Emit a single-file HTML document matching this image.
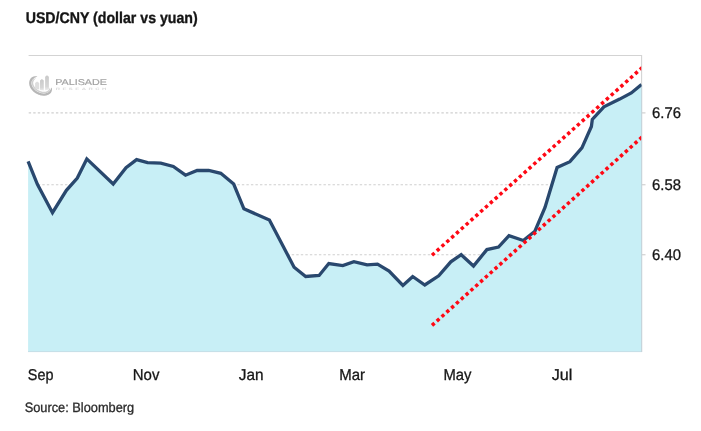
<!DOCTYPE html>
<html>
<head>
<meta charset="utf-8">
<title>USD/CNY (dollar vs yuan)</title>
<style>
html,body{margin:0;padding:0;background:#fff;}
body{width:701px;height:431px;overflow:hidden;font-family:"Liberation Sans",sans-serif;}
svg{display:block;}
text{font-family:"Liberation Sans",sans-serif;fill:#161616;text-rendering:geometricPrecision;}
.lbl text, text.lbl{stroke:#161616;stroke-width:0.3px;}
</style>
</head>
<body>
<svg width="701" height="431" viewBox="0 0 701 431">
  <defs>
    <clipPath id="plot"><rect x="28" y="56" width="613.2" height="296"/></clipPath>
    <clipPath id="plot2"><rect x="20" y="56" width="621.6" height="296"/></clipPath>
    <clipPath id="swclip"><path d="M26,70 L36.5,70 L41,84 L55,84.5 L55,100 L26,100 Z"/></clipPath>
    <filter id="soft" x="-20%" y="-20%" width="140%" height="140%"><feGaussianBlur stdDeviation="0.45"/></filter>
    <linearGradient id="barg" x1="0" y1="0" x2="0" y2="1">
      <stop offset="0" stop-color="#c9c9c9"/><stop offset="0.75" stop-color="#d6d6d6"/><stop offset="1" stop-color="#ececec"/>
    </linearGradient>
  </defs>
  <rect x="0" y="0" width="701" height="431" fill="#ffffff"/>

  <!-- title -->
  <text x="25.7" y="22.6" font-size="15.5" font-weight="700" textLength="172" lengthAdjust="spacingAndGlyphs" style="fill:#151515;stroke:#151515;stroke-width:0.35px">USD/CNY (dollar vs yuan)</text>

  <!-- frame -->
  <line x1="28.6" y1="55.5" x2="642" y2="55.5" stroke="#d3d3d3" stroke-width="1.1"/>
  <line x1="641.6" y1="55" x2="641.6" y2="352" stroke="#d3d3d3" stroke-width="1.1"/>

  <!-- gridlines -->
  <g stroke="#cfcfcf" stroke-width="1.1" stroke-dasharray="2.4 2.135">
    <line x1="28.7" y1="112.9" x2="641" y2="112.9"/>
    <line x1="28.7" y1="184.75" x2="641" y2="184.75"/>
    <line x1="28.7" y1="254.75" x2="641" y2="254.75"/>
  </g>
  <g stroke="#cfcfcf" stroke-width="1.15">
    <line x1="641" y1="112.9" x2="645.5" y2="112.9"/>
    <line x1="641" y1="184.75" x2="645.5" y2="184.75"/>
    <line x1="641" y1="254.75" x2="645.5" y2="254.75"/>
  </g>

  <!-- area -->
  <path fill="#c8eff6" d="M28.1,161.4 L37.4,184.4 L52.5,212.7 L66.4,190.3 L77.3,178.0 L86.8,158.9 L113.2,184.0 L126,167.8 L136.6,159.6 L147.5,162.7 L160.8,163.1 L173.3,166.5 L185.5,175.2 L197.1,170.5 L208.7,170.5 L220.8,173.3 L233.7,184.0 L243.9,208.8 L269.4,220.0 L294.1,267.2 L305.7,276.5 L319.1,275.5 L328.8,263.5 L342.8,265.6 L353.9,261.6 L367.1,264.9 L377.5,264.2 L389.1,271.1 L402.9,285.5 L412.7,276.5 L424.8,285.0 L438.7,275.8 L450.8,261.8 L461.2,254.7 L473.5,266.0 L486.9,249.6 L498.5,247.0 L509,235.6 L523.3,240.5 L534.9,231.2 L545,207.4 L557.1,167.5 L569.9,161.7 L581.9,147.9 L591.4,126.5 L592.3,119.5 L603.9,106.8 L619.7,99.1 L631.3,92.9 L641.5,84.4 L641.5,351.5 L28.1,351.5 Z"/>
  <line x1="28" y1="351.6" x2="642" y2="351.6" stroke="#c3dde6" stroke-width="1"/>
  <line x1="641.6" y1="85" x2="641.6" y2="352" stroke="#c5d4dc" stroke-width="1.1"/>

  <!-- line -->
  <path fill="none" stroke="#29486e" stroke-width="3.3" stroke-linejoin="miter" stroke-linecap="butt" clip-path="url(#plot2)" d="M28.1,161.4 L37.4,184.4 L52.5,212.7 L66.4,190.3 L77.3,178.0 L86.8,158.9 L113.2,184.0 L126,167.8 L136.6,159.6 L147.5,162.7 L160.8,163.1 L173.3,166.5 L185.5,175.2 L197.1,170.5 L208.7,170.5 L220.8,173.3 L233.7,184.0 L243.9,208.8 L269.4,220.0 L294.1,267.2 L305.7,276.5 L319.1,275.5 L328.8,263.5 L342.8,265.6 L353.9,261.6 L367.1,264.9 L377.5,264.2 L389.1,271.1 L402.9,285.5 L412.7,276.5 L424.8,285.0 L438.7,275.8 L450.8,261.8 L461.2,254.7 L473.5,266.0 L486.9,249.6 L498.5,247.0 L509,235.6 L523.3,240.5 L534.9,231.2 L545,207.4 L557.1,167.5 L569.9,161.7 L581.9,147.9 L591.4,126.5 L592.3,119.5 L603.9,106.8 L619.7,99.1 L631.3,92.9 L641.5,84.4"/>

  <!-- red dotted channel -->
  <g stroke="#ff0814" stroke-width="3.5" stroke-dasharray="3.4 3.082" fill="none" clip-path="url(#plot)">
    <line x1="432.0" y1="255.2" x2="645" y2="65.1"/>
    <line x1="432.0" y1="325.4" x2="645" y2="134.45"/>
  </g>

  <!-- logo -->
  <g id="logo">
    <g filter="url(#soft)">
      <path d="M51.49,87.47 L51.78,87.95 L51.91,88.46 L51.97,88.98 L51.98,89.49 L51.94,90.01 L51.86,90.53 L51.73,91.04 L51.56,91.54 L51.34,92.03 L51.08,92.50 L50.78,92.95 L50.40,93.35 L49.99,93.71 L49.55,94.05 L49.08,94.35 L48.60,94.63 L48.08,94.87 L47.55,95.09 L47.00,95.27 L46.43,95.42 L45.85,95.55 L45.26,95.64 L44.65,95.69 L44.04,95.72 L43.41,95.72 L42.79,95.69 L42.15,95.62 L41.52,95.53 L40.88,95.41 L40.24,95.26 L39.61,95.08 L38.98,94.87 L38.36,94.63 L37.74,94.37 L37.13,94.09 L36.54,93.77 L35.96,93.44 L35.39,93.08 L34.83,92.70 L34.30,92.30 L33.78,91.88 L33.29,91.44 L32.81,90.98 L32.36,90.51 L31.94,90.02 L31.53,89.51 L31.16,89.00 L30.82,88.47 L30.50,87.93 L30.21,87.39 L29.96,86.83 L29.74,86.27 L29.55,85.71 L29.40,85.14 L29.28,84.57 L29.20,84.01 L29.15,83.44 L29.14,82.88 L29.17,82.32 L29.24,81.77 L29.34,81.23 L29.49,80.71 L29.67,80.19 L29.89,79.70 L30.15,79.22 L30.44,78.76 L30.77,78.33 L31.13,77.92 L31.52,77.54 L31.98,77.24 L32.46,76.97 L32.96,76.73 L33.48,76.54 L34.01,76.38 L34.56,76.26 L35.11,76.18 L35.68,76.14 L36.25,76.15 L36.82,76.22 L37.40,76.44 L37.40,76.44 L36.88,76.76 L36.38,76.97 L35.90,77.17 L35.45,77.39 L35.03,77.61 L34.63,77.86 L34.26,78.11 L33.92,78.38 L33.61,78.65 L33.32,78.94 L33.07,79.24 L32.80,79.51 L32.55,79.78 L32.33,80.08 L32.13,80.39 L31.96,80.71 L31.81,81.05 L31.68,81.40 L31.58,81.76 L31.51,82.13 L31.46,82.52 L31.44,82.92 L31.45,83.33 L31.48,83.75 L31.54,84.17 L31.63,84.61 L31.75,85.04 L31.90,85.48 L32.07,85.93 L32.28,86.37 L32.51,86.82 L32.77,87.26 L33.06,87.69 L33.37,88.12 L33.70,88.54 L34.06,88.96 L34.45,89.36 L34.85,89.75 L35.27,90.13 L35.72,90.49 L36.18,90.83 L36.65,91.16 L37.14,91.47 L37.65,91.76 L38.16,92.03 L38.68,92.27 L39.21,92.50 L39.75,92.70 L40.28,92.88 L40.82,93.03 L41.36,93.16 L41.90,93.26 L42.43,93.34 L42.96,93.39 L43.48,93.42 L43.99,93.42 L44.49,93.40 L44.98,93.35 L45.45,93.28 L45.90,93.19 L46.34,93.07 L46.76,92.93 L47.16,92.77 L47.53,92.59 L47.89,92.39 L48.22,92.17 L48.53,91.93 L48.82,91.68 L49.08,91.41 L49.37,91.17 L49.64,90.90 L49.90,90.61 L50.14,90.30 L50.36,89.97 L50.57,89.61 L50.75,89.24 L50.93,88.83 L51.08,88.41 L51.24,87.95 L51.49,87.47 Z" fill="#b7b7b7"/>
      <path d="M49.95,87.58 L50.11,87.94 L50.16,88.30 L50.18,88.67 L50.16,89.03 L50.10,89.40 L50.02,89.75 L49.90,90.10 L49.76,90.45 L49.59,90.78 L49.38,91.10 L49.15,91.41 L48.90,91.70 L48.59,91.95 L48.27,92.17 L47.93,92.38 L47.57,92.57 L47.20,92.73 L46.82,92.88 L46.42,93.00 L46.00,93.11 L45.58,93.19 L45.15,93.25 L44.71,93.29 L44.26,93.31 L43.80,93.31 L43.34,93.29 L42.87,93.25 L42.40,93.19 L41.93,93.11 L41.46,93.01 L40.98,92.90 L40.51,92.76 L40.04,92.60 L39.57,92.43 L39.11,92.24 L38.65,92.03 L38.20,91.81 L37.75,91.56 L37.32,91.31 L36.89,91.04 L36.47,90.75 L36.07,90.45 L35.68,90.14 L35.30,89.82 L34.93,89.48 L34.59,89.14 L34.25,88.78 L33.94,88.42 L33.64,88.05 L33.36,87.67 L33.10,87.28 L32.86,86.89 L32.64,86.49 L32.44,86.09 L32.27,85.69 L32.12,85.28 L31.99,84.87 L31.88,84.46 L31.80,84.05 L31.74,83.65 L31.71,83.24 L31.70,82.84 L31.72,82.45 L31.77,82.06 L31.84,81.67 L31.94,81.30 L32.07,80.94 L32.22,80.58 L32.43,80.26 L32.66,79.96 L32.92,79.68 L33.20,79.43 L33.49,79.19 L33.80,78.98 L34.13,78.80 L34.47,78.64 L34.83,78.51 L35.20,78.40 L35.58,78.34 L35.99,78.38 L35.99,78.38 L35.70,78.66 L35.41,78.87 L35.13,79.08 L34.88,79.30 L34.64,79.52 L34.43,79.75 L34.24,79.98 L34.06,80.22 L33.91,80.47 L33.78,80.72 L33.67,80.97 L33.58,81.23 L33.47,81.48 L33.38,81.74 L33.31,82.01 L33.25,82.29 L33.22,82.57 L33.20,82.87 L33.21,83.17 L33.23,83.49 L33.28,83.80 L33.34,84.13 L33.43,84.46 L33.53,84.79 L33.66,85.12 L33.80,85.46 L33.97,85.80 L34.16,86.14 L34.36,86.47 L34.59,86.80 L34.83,87.13 L35.09,87.46 L35.37,87.78 L35.66,88.09 L35.97,88.40 L36.29,88.70 L36.63,88.99 L36.98,89.26 L37.34,89.53 L37.72,89.79 L38.10,90.03 L38.49,90.26 L38.89,90.47 L39.29,90.68 L39.70,90.86 L40.12,91.03 L40.54,91.19 L40.96,91.33 L41.38,91.45 L41.79,91.55 L42.21,91.64 L42.62,91.71 L43.03,91.76 L43.44,91.80 L43.83,91.81 L44.22,91.81 L44.60,91.80 L44.97,91.76 L45.33,91.71 L45.68,91.64 L46.01,91.56 L46.33,91.46 L46.63,91.35 L46.92,91.22 L47.19,91.07 L47.45,90.92 L47.69,90.75 L47.91,90.57 L48.14,90.40 L48.36,90.22 L48.57,90.03 L48.76,89.82 L48.94,89.60 L49.11,89.36 L49.26,89.10 L49.41,88.83 L49.54,88.55 L49.65,88.24 L49.77,87.92 L49.95,87.58 Z" fill="#d0d0d0"/>
      <path d="M35.1,88.5 L35.1,83 L37.1,81.4 L39.2,83 L39.2,89.5 Z" fill="#dedede"/>
      <path d="M40,90 L40,80.6 L41.9,78.9 L43.8,80.6 L43.8,90.5 Z" fill="url(#barg)"/>
      <path d="M45.1,90.3 L45.1,76.8 L47,75.2 L48.9,76.8 L48.9,89.5 Z" fill="url(#barg)"/>
    </g>
    <text x="55.2" y="85.2" font-size="8.5" textLength="51.7" lengthAdjust="spacingAndGlyphs" style="fill:#a2a2a2;stroke:#a2a2a2;stroke-width:0.18px">PALISADE</text>
    <text transform="translate(55.7,89.75) scale(1.75,1)" x="0" y="0" font-size="3.4" font-weight="700" textLength="28.9" lengthAdjust="spacing" style="fill:#dadada">RESEARCH</text>
  </g>

  <!-- y labels -->
  <g font-size="15.5" class="lbl">
    <text x="652.0" y="118.05" textLength="28.9" lengthAdjust="spacingAndGlyphs">6.76</text>
    <text x="652.0" y="190.45" textLength="28.9" lengthAdjust="spacingAndGlyphs">6.58</text>
    <text x="652.0" y="260.45" textLength="28.9" lengthAdjust="spacingAndGlyphs">6.40</text>
  </g>
  <!-- x labels -->
  <g font-size="15.6" class="lbl">
    <text x="27.8" y="380.4" textLength="25.6" lengthAdjust="spacingAndGlyphs">Sep</text>
    <text x="132.8" y="380.4" textLength="26.6" lengthAdjust="spacingAndGlyphs">Nov</text>
    <text x="238.8" y="380.4" textLength="24.8" lengthAdjust="spacingAndGlyphs">Jan</text>
    <text x="339.2" y="380.4" textLength="25.8" lengthAdjust="spacingAndGlyphs">Mar</text>
    <text x="443.4" y="380.4" textLength="28" lengthAdjust="spacingAndGlyphs">May</text>
    <text x="551.7" y="380.4" textLength="20.6" lengthAdjust="spacingAndGlyphs">Jul</text>
  </g>
  <text x="24.7" y="412.4" font-size="13.6" textLength="109.5" lengthAdjust="spacingAndGlyphs" class="lbl" style="fill:#2a2a2a;stroke:#2a2a2a">Source: Bloomberg</text>
</svg>
</body>
</html>
